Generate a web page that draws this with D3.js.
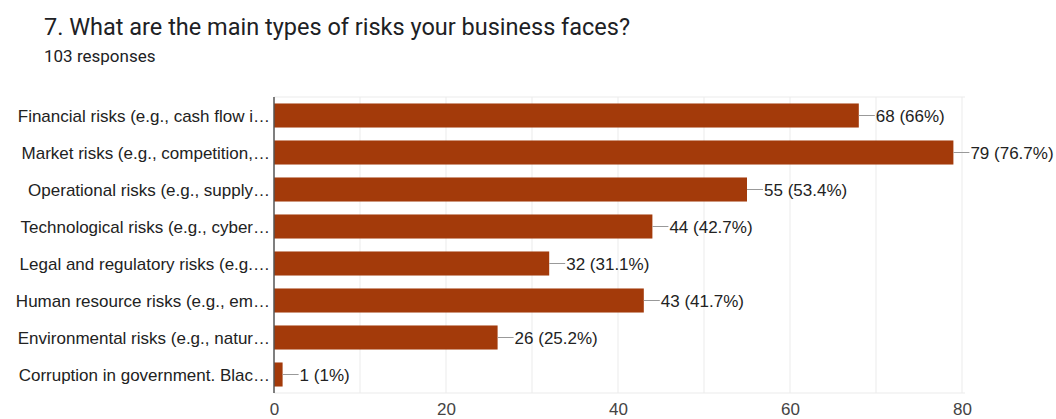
<!DOCTYPE html>
<html lang="en">
<head>
<meta charset="utf-8">
<title></title>
<style>
  body, html { margin: 0; padding: 0; background: #fff; }
  .title { font-family: Roboto, "Noto Sans", sans-serif; }
  .cat { font-family: "Liberation Sans", Arial, sans-serif; font-size: 17px; fill: #222; }
  .val { font-family: "Liberation Sans", Arial, sans-serif; font-size: 17px; fill: #222; }
  .tick text { font-family: "Liberation Sans", Arial, sans-serif; font-size: 17px; fill: #444; }
</style>
</head>
<body>
<svg></svg>
<script src="https://d3js.org/d3.v7.min.js"></script>
<script>
  // chart data
  let categories = [
    "Financial risks (e.g., cash flow i\u2026",
    "Market risks (e.g., competition,\u2026",
    "Operational risks (e.g., supply\u2026",
    "Technological risks (e.g., cyber\u2026",
    "Legal and regulatory risks (e.g.\u2026",
    "Human resource risks (e.g., em\u2026",
    "Environmental risks (e.g., natur\u2026",
    "Corruption in government. Blac\u2026"
  ];
  let counts = [68, 79, 55, 44, 32, 43, 26, 1];
  let percents = ["66%", "76.7%", "53.4%", "42.7%", "31.1%", "41.7%", "25.2%", "1%"];
  let xTicks = [0, 20, 40, 60, 80];
  let gridValues = [10, 20, 30, 40, 50, 60, 70, 80];

  let w = 1056, h = 419;
  let svg = d3.select("svg").attr("width", w).attr("height", h);

  // title
  svg.append("text").attr("class", "title")
    .attr("x", 44).attr("y", 35)
    .style("font-size", "23.5px").style("fill", "#202124")
    .text("7. What are the main types of risks your business faces?");
  svg.append("text").attr("class", "title")
    .attr("x", 44).attr("y", 62)
    .style("font-size", "17px").style("fill", "#202124")
    .text("103 responses");

  let plotL = 274, plotR = 962, plotT = 97, plotB = 393;

  let x = d3.scaleLinear().domain([0, 80]).range([plotL, plotR]);
  let y = d3.scaleBand().domain(categories).range([plotT, plotB]).paddingInner(0.35).paddingOuter(0.175);

  // gridlines
  svg.append("g").selectAll("line")
    .data(gridValues)
    .enter().append("line")
    .attr("x1", d => x(d)).attr("x2", d => x(d))
    .attr("y1", plotT).attr("y2", plotB)
    .attr("stroke", "#ebebeb").attr("stroke-width", 1);
  svg.append("line")
    .attr("x1", plotL).attr("x2", x(80) + 3)
    .attr("y1", plotT).attr("y2", plotT)
    .attr("stroke", "#ebebeb");
  svg.append("line")
    .attr("x1", plotL).attr("x2", x(80) + 3)
    .attr("y1", plotB).attr("y2", plotB)
    .attr("stroke", "#ebebeb");

  // bars
  svg.append("g").selectAll("rect")
    .data(counts)
    .enter().append("rect")
    .attr("x", x(0))
    .attr("y", (d, i) => y(categories[i]))
    .attr("width", d => x(d) - x(0))
    .attr("height", y.bandwidth())
    .attr("fill", "#a33a0a");

  // connector lines + value labels
  let ann = svg.append("g");
  ann.selectAll("line")
    .data(counts)
    .enter().append("line")
    .attr("x1", d => x(d)).attr("x2", d => x(d) + 16)
    .attr("y1", (d, i) => y(categories[i]) + y.bandwidth() / 2)
    .attr("y2", (d, i) => y(categories[i]) + y.bandwidth() / 2)
    .attr("stroke", "#999").attr("stroke-width", 1);
  ann.selectAll("text")
    .data(counts)
    .enter().append("text")
    .attr("class", "val")
    .attr("x", d => x(d) + 17)
    .attr("y", (d, i) => y(categories[i]) + y.bandwidth() / 2)
    .attr("dy", "0.36em")
    .text((d, i) => `${d} (${percents[i]})`);

  // category labels
  svg.append("g").selectAll("text")
    .data(categories)
    .enter().append("text")
    .attr("class", "cat")
    .attr("x", plotL - 4)
    .attr("y", d => y(d) + y.bandwidth() / 2)
    .attr("dy", "0.36em")
    .attr("text-anchor", "end")
    .text(d => d);

  // baseline
  svg.append("line")
    .attr("x1", plotL).attr("x2", plotL)
    .attr("y1", plotT).attr("y2", plotB)
    .attr("stroke", "#555").attr("stroke-width", 1.5);

  // x axis
  let xAxis = d3.axisBottom(x).tickValues(xTicks).tickSize(0).tickPadding(10);
  let ax = svg.append("g").attr("transform", `translate(0,${plotB})`).call(xAxis);
  ax.select(".domain").remove();
</script>
</body>
</html>
